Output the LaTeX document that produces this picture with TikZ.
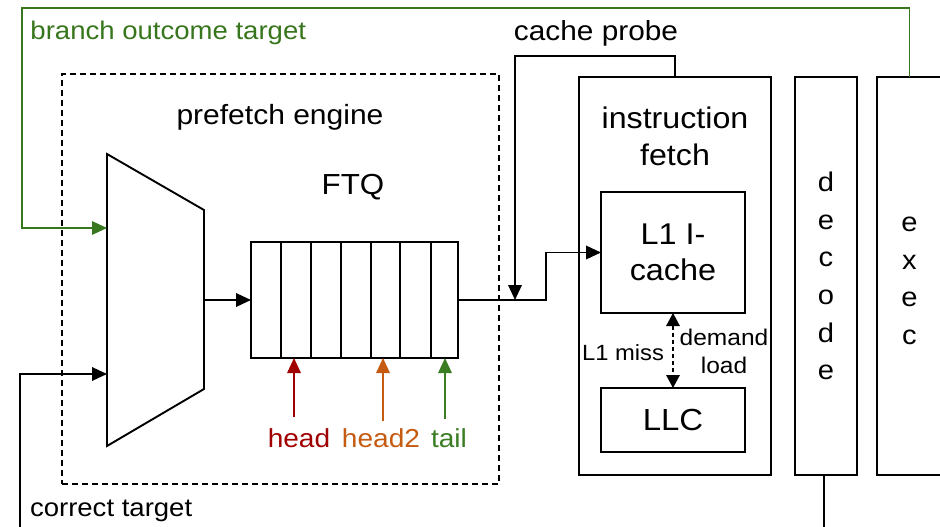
\documentclass[tikz,border=0pt]{standalone}
\usepackage{fontspec}
\setmainfont[FakeStretch=1.08]{Liberation Sans}
\usetikzlibrary{arrows.meta}

\definecolor{brgreen}{RGB}{56,118,29}
\definecolor{headred}{RGB}{160,0,0}
\definecolor{headorange}{RGB}{197,90,17}
\definecolor{tailgreen}{RGB}{59,125,35}

\newcommand\tsize[2]{\fontsize{#1pt}{#2pt}\selectfont}

\begin{document}
\begin{tikzpicture}[x=1pt,y=-1pt,
  box/.style={draw=black, line width=1.9pt, inner sep=0pt, outer sep=0pt},
  enginebox/.style={draw=black, line width=1.9pt, dash pattern=on 6pt off 4pt, inner sep=0pt, outer sep=0pt},
  txt/.style={inner sep=0pt, outer sep=0pt},
  wire/.style={draw=black, line width=1.9pt},
  arr/.style={wire, -{Triangle[length=15pt,width=13.5pt]}},
  grnarr/.style={draw=brgreen, line width=1.5pt, -{Triangle[length=15pt,width=13.5pt]}},
  ptrarr/.style={line width=1.6pt, -{Triangle[length=15pt,width=13.5pt]}},
  dasharr/.style={draw=black, line width=1.5pt, dash pattern=on 4pt off 3pt,
    {Triangle[length=13pt,width=13.5pt]}-{Triangle[length=13pt,width=13.5pt]}}
]
\useasboundingbox (0,0) rectangle (940,527);

% prefetch engine boundary
\node[enginebox, minimum width=437pt, minimum height=410pt] (engine) at (280.5,279) {};
\node[txt, anchor=base, font=\tsize{27.8}{33}] (enginelbl) at (280,124) {prefetch engine};

% next-PC selector (trapezoid)
\draw[line width=1.9pt] (107,154) -- (204,210) -- (204,389) -- (107,446) -- cycle;
\coordinate (muxin1) at (107,228);
\coordinate (muxin2) at (107,374);
\coordinate (muxout) at (204,300);

% fetch target queue
\node[txt, anchor=base, font=\tsize{29}{34}] (ftqlbl) at (353,194) {FTQ};
\node[box, minimum width=207pt, minimum height=116pt] (ftq) at (354.5,300) {};
\foreach \cx in {281,311,341,371,400,431}
  \draw[line width=1.9pt] (\cx,0 |- ftq.north) -- (\cx,0 |- ftq.south);

% queue pointers
\node[txt, anchor=base, font=\tsize{26}{31}, text=headred] (headlbl) at (299,447) {head};
\node[txt, anchor=base, font=\tsize{26}{31}, text=headorange] (head2lbl) at (381,447) {head2};
\node[txt, anchor=base, font=\tsize{26}{31}, text=tailgreen] (taillbl) at (449,447) {tail};
\coordinate (hd) at (294,417);
\coordinate (hdtwo) at (383,421);
\coordinate (tl) at (445,419);
\draw[ptrarr, draw=headred, fill=headred] (hd) -- (hd |- ftq.south);
\draw[ptrarr, draw=headorange, fill=headorange] (hdtwo) -- (hdtwo |- ftq.south);
\draw[ptrarr, draw=tailgreen, fill=tailgreen] (tl) -- (tl |- ftq.south);

% pipeline stages
\node[box, minimum width=192pt, minimum height=398pt] (ifetch) at (675,276) {};
\node[txt, anchor=north, align=center, font=\tsize{29.8}{37}] (ifetchlbl) at (675,107) {instruction\\fetch};
\node[box, minimum width=144pt, minimum height=121pt, align=center, font=\tsize{30}{36}] (l1) at (673,252.5) {L1 I-\\cache};
\node[box, minimum width=144pt, minimum height=64pt, font=\tsize{30.5}{36}] (llc) at (673,420) {LLC};
\node[box, minimum width=62pt, minimum height=398pt, align=center, font=\tsize{27}{37.6}] (decode) at (826,276) {d\\e\\c\\o\\d\\e};
\node[box, minimum width=65pt, minimum height=398pt] (exec) at (909.5,276) {};
\node[txt, align=center, font=\tsize{27}{37.6}] (execlbl) at (909.5,281) {e\\x\\e\\c};

% miss path between the caches
\draw[dasharr] (l1.south) -- (llc.north);
\node[txt, anchor=base east, font=\tsize{22}{27}] (misslbl) at (664,360) {L1 miss};
\node[txt, anchor=north, align=center, font=\tsize{22.7}{28}] (demandlbl) at (724,329) {demand\\load};

% FTQ head to the instruction cache, with the cache probe joining it
\coordinate (probejoin) at (515,300);
\draw[arr] (ftq.east) -- ++(88,0) |- (l1.west);
\draw[arr] (ifetch.north) -- ++(0,-21) -| (probejoin);
\node[txt, anchor=base, font=\tsize{27.6}{33}] (probelbl) at (596,41) {cache probe};

% selector inputs and output
\draw[arr] (muxout) -- (ftq.west);
\coordinate (gtop) at (22,8);
\draw[grnarr] (exec.north) |- (gtop) |- (muxin1);
\node[txt, anchor=base west, font=\tsize{25.5}{31}, text=brgreen] (brlbl) at (30.5,40) {branch outcome target};
\coordinate (ctbot) at (20,530);
\draw[arr] (ctbot) |- (muxin2);
\node[txt, anchor=base west, font=\tsize{25.5}{31}] (ctlbl) at (30,516) {correct target};

% decode output
\coordinate (decbot) at (824,530);
\draw[wire] (decode.south -| decbot) -- (decbot);
\end{tikzpicture}
\end{document}
